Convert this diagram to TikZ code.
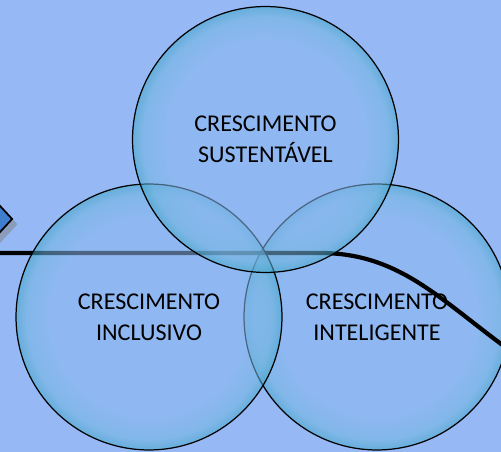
\documentclass[tikz,border=0pt]{standalone}
\usepackage{fontspec}
\setmainfont{Carlito}
\usetikzlibrary{shapes.geometric,shadows}

\definecolor{bgblue}{HTML}{96B9F6}
\definecolor{bubin}{HTML}{8BB8F0}
\definecolor{bubmid}{HTML}{72B6E0}
\definecolor{bubout}{HTML}{3FA6C6}
\definecolor{arrowblue}{HTML}{3F7DCF}

\pgfdeclareradialshading{bubble}{\pgfpoint{0bp}{0bp}}{%
  color(0bp)=(bubin); color(18bp)=(bubin); color(23bp)=(bubmid);
  color(25bp)=(bubout); color(50bp)=(bubout)}

\begin{document}
\begin{tikzpicture}[x=0.02cm, y=-0.02cm,
    bubble_node/.style={circle, draw=black, line width=0.7pt, minimum size=5.32cm,
        shading=bubble, fill opacity=0.55, text opacity=1, align=center,
        font=\fontsize{13.7pt}{17.6pt}\selectfont}]

    \useasboundingbox[fill=bgblue] (0, 0) rectangle (501, 452);

    \node[diamond, draw=black, line width=1pt, fill=arrowblue, minimum width=1.3cm,
        minimum height=1.4cm, drop shadow={shadow xshift=3pt, shadow yshift=-3pt}]
        (arrowhead) at (-20, 219) {};

    \node[bubble_node] (inteligente) at (377, 317) {CRESCIMENTO\\INTELIGENTE};

    \coordinate (line_start) at (-5, 253);
    \coordinate (line_end) at (512, 352);
    \draw[line width=2.4pt] (line_start) -- (320, 253)
        .. controls (400, 253) and (440, 300) .. (line_end);

    \node[bubble_node] (inclusivo) at (149, 317) {CRESCIMENTO\\INCLUSIVO};
    \node[bubble_node] (sustentavel) at (265.5, 139.5) {CRESCIMENTO\\SUSTENTÁVEL};
\end{tikzpicture}
\end{document}
